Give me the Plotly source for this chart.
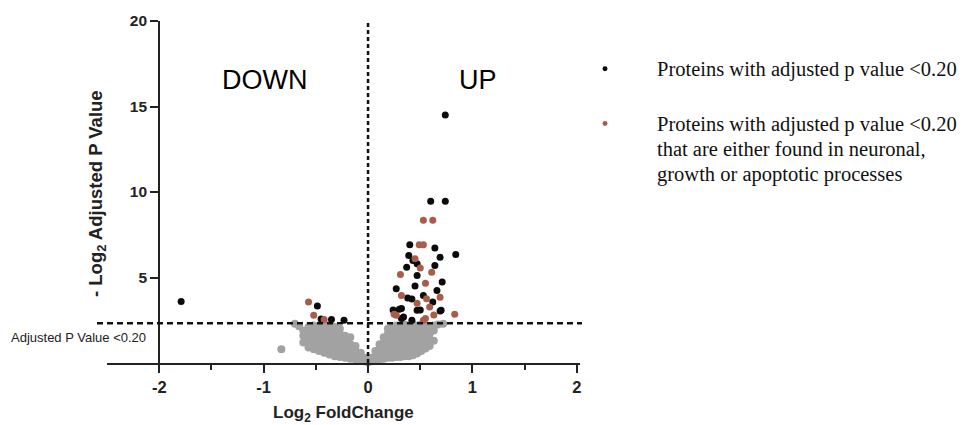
import plotly.graph_objects as go

# ---------------- data ----------------
# Significant proteins (black)
black_x = [-1.79, -0.485, -0.45, -0.35, -0.23,
           0.74, 0.60, 0.74, 0.84, 0.40, 0.64, 0.39, 0.43, 0.69, 0.47, 0.64, 0.37,
           0.47, 0.71, 0.27, 0.66, 0.38, 0.42, 0.53, 0.62, 0.47, 0.32, 0.26, 0.69,
           0.34, 0.50, 0.24, 0.30, 0.32, 0.42, 0.70, 0.45]
black_y = [3.6, 3.33, 2.58, 2.54, 2.5,
           14.5, 9.46, 9.46, 6.35, 6.92, 6.73, 6.28, 6.0, 6.18, 5.8, 5.7, 5.6,
           5.12, 4.73, 4.34, 4.24, 3.8, 3.75, 3.95, 3.56, 3.08, 3.18, 2.98, 3.04,
           2.69, 3.1, 3.1, 3.15, 2.6, 2.5, 3.08, 4.5]

# Significant proteins in neuronal / growth / apoptotic processes (brown)
brown_x = [-0.57, -0.52, -0.42,
           0.53, 0.62, 0.49, 0.53, 0.45, 0.50, 0.61, 0.31, 0.55, 0.32, 0.47,
           0.69, 0.59, 0.83, 0.55, 0.27, 0.56, 0.25, 0.53, 0.63]
brown_y = [3.56, 2.79, 2.55,
           8.35, 8.35, 6.92, 6.92, 6.1, 5.56, 5.3, 5.17, 4.67, 3.95, 3.49,
           3.85, 3.27, 2.85, 2.6, 2.79, 3.76, 2.85, 2.5, 2.8]

# Non-significant proteins (grey cloud)
grey_x = [-0.83, -0.70, -0.66,
          -0.62, -0.62, -0.62,
          -0.57, -0.57, -0.57, -0.57,
          -0.52, -0.52, -0.52, -0.52, -0.52,
          -0.47, -0.47, -0.47, -0.47, -0.47,
          -0.42, -0.42, -0.42, -0.42, -0.42, -0.42,
          -0.37, -0.37, -0.37, -0.37, -0.37, -0.37,
          -0.32, -0.32, -0.32, -0.32, -0.32, -0.32,
          -0.27, -0.27, -0.27, -0.27, -0.27, -0.27,
          -0.22, -0.22, -0.22, -0.22, -0.22,
          -0.17, -0.17, -0.17, -0.17, -0.17,
          -0.12, -0.12, -0.12, -0.12,
          -0.07, -0.07, -0.07,
          -0.03, -0.03,
          0.0, 0.0,
          0.03, 0.03,
          0.07, 0.07, 0.07,
          0.11, 0.11, 0.11, 0.11,
          0.15, 0.15, 0.15, 0.15, 0.15,
          0.19, 0.19, 0.19, 0.19, 0.19, 0.19,
          0.23, 0.23, 0.23, 0.23, 0.23, 0.23,
          0.27, 0.27, 0.27, 0.27, 0.27, 0.27,
          0.31, 0.31, 0.31, 0.31, 0.31, 0.31,
          0.35, 0.35, 0.35, 0.35, 0.35, 0.35,
          0.39, 0.39, 0.39, 0.39, 0.39, 0.39,
          0.43, 0.43, 0.43, 0.43, 0.43, 0.43,
          0.47, 0.47, 0.47, 0.47, 0.47, 0.47,
          0.51, 0.51, 0.51, 0.51, 0.51, 0.51,
          0.55, 0.55, 0.55, 0.55, 0.55,
          0.59, 0.59, 0.59, 0.59,
          0.63, 0.63, 0.63,
          0.67, 0.72]
grey_y = [0.8, 2.3, 2.15,
          1.2, 1.6, 1.9,
          0.9, 1.3, 1.7, 2.1,
          0.8, 1.2, 1.5, 1.9, 2.2,
          0.7, 1.0, 1.4, 1.8, 2.1,
          0.6, 0.9, 1.3, 1.6, 2.0, 2.3,
          0.5, 0.8, 1.2, 1.5, 1.9, 2.2,
          0.4, 0.7, 1.1, 1.4, 1.8, 2.1,
          0.35, 0.6, 1.0, 1.3, 1.7, 2.0,
          0.3, 0.55, 0.9, 1.2, 1.6,
          0.25, 0.5, 0.8, 1.1, 1.5,
          0.2, 0.4, 0.7, 1.0,
          0.15, 0.35, 0.6,
          0.1, 0.3,
          0.05, 0.2,
          0.1, 0.3,
          0.15, 0.4, 0.7,
          0.2, 0.5, 0.8, 1.1,
          0.25, 0.55, 0.9, 1.2, 1.5,
          0.3, 0.6, 0.95, 1.3, 1.7, 2.0,
          0.3, 0.65, 1.0, 1.35, 1.7, 2.1,
          0.35, 0.7, 1.05, 1.4, 1.8, 2.2,
          0.35, 0.7, 1.1, 1.45, 1.85, 2.2,
          0.4, 0.75, 1.1, 1.5, 1.9, 2.25,
          0.4, 0.8, 1.15, 1.55, 1.9, 2.2,
          0.45, 0.85, 1.2, 1.6, 1.95, 2.25,
          0.55, 0.9, 1.25, 1.6, 1.95, 2.2,
          0.7, 1.0, 1.35, 1.7, 2.0, 2.25,
          0.85, 1.15, 1.5, 1.85, 2.2,
          1.0, 1.35, 1.7, 2.1,
          1.3, 1.9, 2.2,
          2.25, 2.3]

threshold = 2.32          # -log2(0.20)
x_ticks = [-2, -1, 0, 1, 2]
y_ticks = [5, 10, 15, 20]
x_range = [-2.5, 2.03]
y_range = [0, 20]

legend1_lines = ["Proteins with adjusted p value <0.20"]
legend2_lines = ["Proteins with adjusted p value <0.20",
                 "that are either found in neuronal,",
                 "growth or apoptotic processes"]

# ---------------- figure ----------------
W, H = 965, 425
ML, MR, MT, MB = 107, 385, 19, 62
pw = W - ML - MR
ph = H - MT - MB

def px2paper_x(px):
    return (px - ML) / pw

def px2paper_y(py):
    return (H - MB - py) / ph

GREY = "#a2a2a2"
BROWN = "#a85c4a"
BLACK = "#0b0b0b"
SANS = "Liberation Sans, Arial, sans-serif"
SERIF = "Liberation Serif, Times New Roman, serif"

fig = go.Figure()
fig.add_trace(go.Scatter(x=grey_x, y=grey_y, mode="markers",
                         marker=dict(size=8, color=GREY), cliponaxis=False,
                         showlegend=False))
fig.add_trace(go.Scatter(x=black_x, y=black_y, mode="markers",
                         marker=dict(size=7, color=BLACK), cliponaxis=False,
                         showlegend=False))
fig.add_trace(go.Scatter(x=brown_x, y=brown_y, mode="markers",
                         marker=dict(size=7, color=BROWN), cliponaxis=False,
                         showlegend=False))

# dashed reference lines
fig.add_shape(type="line", xref="paper", yref="y",
              x0=px2paper_x(97), x1=px2paper_x(582), y0=threshold, y1=threshold,
              line=dict(color="#111", width=2.5, dash="6px,4px"), layer="above")
fig.add_shape(type="line", xref="x", yref="y",
              x0=0, x1=0, y0=0, y1=20,
              line=dict(color="#111", width=2.5, dash="4px,3px"), layer="above")

# legend markers
leg_marker_y = [67, 122]
leg_colors = [BLACK, BROWN]
for yy, cc in zip(leg_marker_y, leg_colors):
    fig.add_shape(type="circle", xref="paper", yref="paper",
                  x0=px2paper_x(602.5), x1=px2paper_x(607.5),
                  y0=px2paper_y(yy + 2.5), y1=px2paper_y(yy - 2.5),
                  fillcolor=cc, line=dict(width=0))

annotations = [
    dict(text="DOWN", x=px2paper_x(264), y=px2paper_y(78), xref="paper", yref="paper",
         showarrow=False, font=dict(family=SANS, size=27, color="#000"),
         xanchor="center", yanchor="middle"),
    dict(text="UP", x=px2paper_x(478), y=px2paper_y(78), xref="paper", yref="paper",
         showarrow=False, font=dict(family=SANS, size=27, color="#000"),
         xanchor="center", yanchor="middle"),
    dict(text="Adjusted P Value <0.20", x=px2paper_x(9), y=px2paper_y(337),
         xref="paper", yref="paper", showarrow=False,
         font=dict(family=SANS, size=13, color="#222"),
         xanchor="left", yanchor="middle"),
    dict(text="- Log<sub>2</sub> Adjusted P Value", x=px2paper_x(97), y=px2paper_y(193),
         xref="paper", yref="paper", showarrow=False, textangle=-90,
         font=dict(family=SANS, size=18.5, color="#222", weight="bold"),
         xanchor="center", yanchor="middle"),
    dict(text="Log<sub>2</sub> FoldChange", x=px2paper_x(343), y=px2paper_y(414),
         xref="paper", yref="paper", showarrow=False,
         font=dict(family=SANS, size=17, color="#222", weight="bold"),
         xanchor="center", yanchor="middle"),
]
for i, line in enumerate(legend1_lines):
    annotations.append(dict(text=line, x=px2paper_x(655), y=px2paper_y(68 + 25 * i),
                            xref="paper", yref="paper", showarrow=False,
                            font=dict(family=SERIF, size=20.5, color="#111"),
                            xanchor="left", yanchor="middle"))
for i, line in enumerate(legend2_lines):
    annotations.append(dict(text=line, x=px2paper_x(655), y=px2paper_y(123 + 25 * i),
                            xref="paper", yref="paper", showarrow=False,
                            font=dict(family=SERIF, size=20.5, color="#111"),
                            xanchor="left", yanchor="middle"))

fig.update_layout(
    width=W, height=H,
    margin=dict(l=ML, r=MR, t=MT, b=MB, pad=0),
    paper_bgcolor="white", plot_bgcolor="white",
    showlegend=False,
    annotations=annotations,
    xaxis=dict(range=x_range, tickvals=x_ticks, ticktext=[str(v) for v in x_ticks],
               showgrid=False, zeroline=False, showline=True, linecolor="#222",
               linewidth=2, ticks="outside", ticklen=8, tickwidth=2, tickcolor="#222",
               tickfont=dict(family=SANS, size=16.5, color="#222", weight="bold"),
               minor=dict(tickvals=[-1.5, -0.5, 0.5, 1.5], ticks="outside", ticklen=5,
                          tickwidth=2, tickcolor="#222"),
               fixedrange=True),
    yaxis=dict(range=y_range, tickvals=y_ticks, ticktext=[str(v) for v in y_ticks],
               anchor="free", position=(-2 - x_range[0]) / (x_range[1] - x_range[0]),
               showgrid=False, zeroline=False, showline=True, linecolor="#222",
               linewidth=2, ticks="outside", ticklen=8, tickwidth=2, tickcolor="#222",
               tickfont=dict(family=SANS, size=15.5, color="#222", weight="bold"),
               fixedrange=True),
)

fig.write_html("out.html")
